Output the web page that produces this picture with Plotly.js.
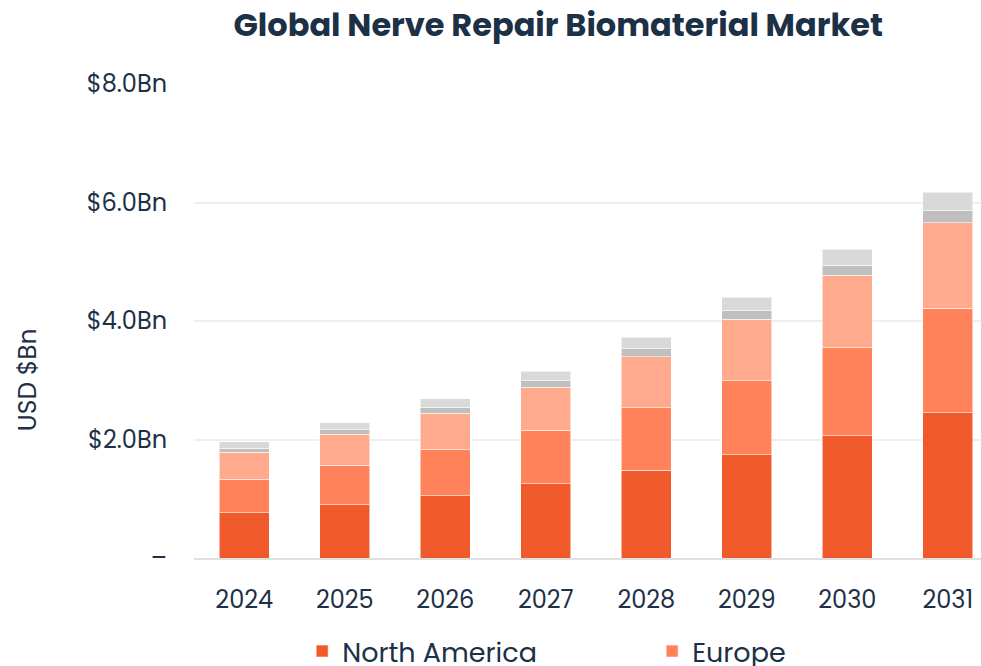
<!DOCTYPE html>
<html>
<head>
<meta charset="utf-8">
<script src="https://cdn.plot.ly/plotly-3.0.1.min.js"></script>
<style>
html,body{margin:0;padding:0;overflow:hidden;background:#fff;}
#chart{width:981px;height:800px;}
</style>
</head>
<body>
<div id="chart"></div>
<script>
const years = ['2024','2025','2026','2027','2028','2029','2030','2031'];
const northAmerica = [0.765, 0.900, 1.052, 1.254, 1.480, 1.744, 2.064, 2.452];
const europe       = [0.563, 0.664, 0.776, 0.898, 1.057, 1.249, 1.485, 1.762];
const asiaPacific  = [0.456, 0.524, 0.619, 0.729, 0.861, 1.036, 1.222, 1.445];
const latinAmerica = [0.068, 0.078, 0.096, 0.112, 0.135, 0.152, 0.174, 0.214];
const middleEastAfrica = [0.106, 0.118, 0.141, 0.163, 0.192, 0.219, 0.270, 0.304];
const seriesNames = ['North America','Europe','Asia Pacific','Latin America','Middle East & Africa'];
const seriesColors = ['#F05A2A','#FF825A','#FFAA8C','#BFBFBF','#D9D9D9'];
const yTickVals = [0, 2, 4, 6, 8];
const yTickText = ['–','$2.0Bn','$4.0Bn','$6.0Bn','$8.0Bn'];

const FONT = 'Poppins, Inter, "Open Sans", sans-serif';
const TXT = '#1C3046';

const values = [northAmerica, europe, asiaPacific, latinAmerica, middleEastAfrica];
const traces = values.map((v, i) => ({
  type: 'bar',
  name: seriesNames[i],
  x: years,
  y: v,
  marker: {color: seriesColors[i], line: {color: 'rgba(255,255,255,0.55)', width: 1}},
  hoverinfo: 'skip'
}));

const layout = {
  width: 981, height: 800,
  barmode: 'stack',
  bargap: 0.5,
  paper_bgcolor: '#fff',
  plot_bgcolor: '#fff',
  margin: {l: 194, r: 0, t: 84, b: 242},
  font: {family: FONT, color: TXT},
  title: {
    text: '<b>Global Nerve Repair Biomaterial Market</b>',
    font: {family: FONT, size: 32, color: TXT},
    x: 0.569, xanchor: 'center', xref: 'container',
    y: 1 - 25/800, yanchor: 'middle', yref: 'container'
  },
  xaxis: {
    type: 'category',
    range: [-0.5, 7.33],
    showgrid: false,
    zeroline: false,
    showline: true, linecolor: '#e0e0e0', linewidth: 2,
    tickfont: {family: FONT, size: 24, color: TXT},
    ticks: '', ticklabelstandoff: 19,
    fixedrange: true
  },
  yaxis: {
    range: [0, 8],
    tickvals: yTickVals,
    ticktext: yTickText,
    showgrid: true, gridcolor: '#EFEFEF', gridwidth: 2,
    zeroline: false,
    showline: false,
    tickfont: {family: FONT, size: 24, color: TXT},
    ticks: '', ticklabelstandoff: 26,
    fixedrange: true
  },
  annotations: [{
    text: 'USD $Bn', textangle: -90,
    xref: 'paper', yref: 'paper',
    x: -0.212, y: 0.3755, xanchor: 'center', yanchor: 'middle',
    showarrow: false,
    font: {family: FONT, size: 25, color: TXT}
  }],
  showlegend: true,
  legend: {
    orientation: 'h',
    xref: 'container', yref: 'container',
    x: 0.308, xanchor: 'left',
    y: 1 - 627/800, yanchor: 'top',
    entrywidth: 305, entrywidthmode: 'pixels',
    traceorder: 'normal',
    font: {family: FONT, size: 27, color: TXT},
    bgcolor: 'rgba(0,0,0,0)'
  }
};

Plotly.newPlot('chart', traces, layout, {displayModeBar: false, staticPlot: true});
</script>
</body>
</html>
